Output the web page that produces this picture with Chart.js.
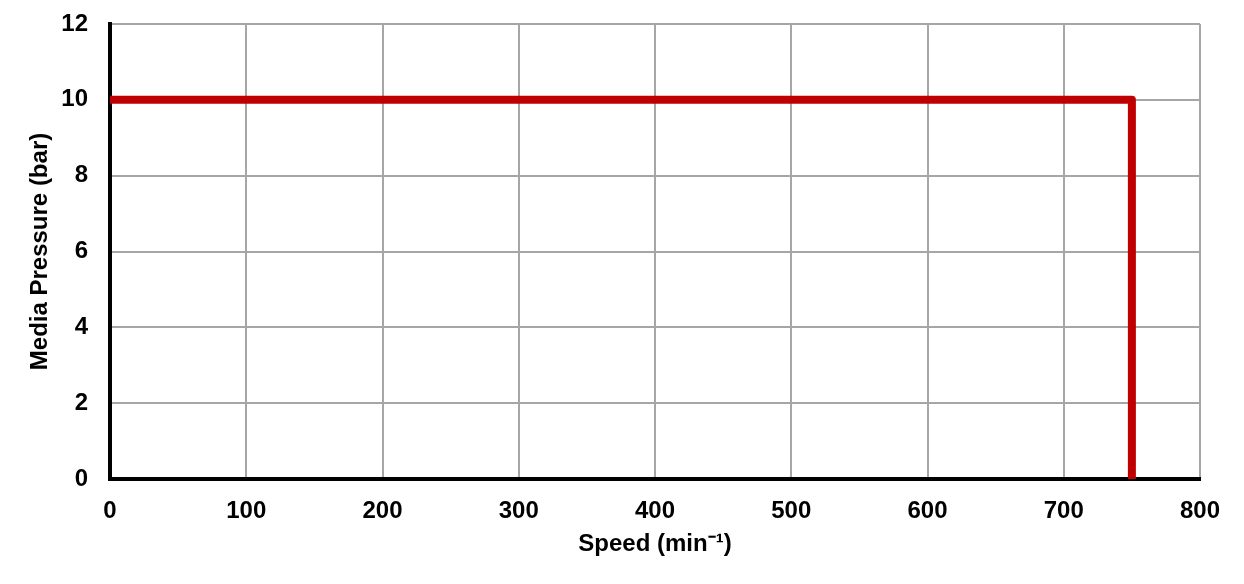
<!DOCTYPE html>
<html>
<head>
<meta charset="utf-8">
<script src="https://cdn.jsdelivr.net/npm/chart.js@4/dist/chart.umd.min.js"></script>
<style>
  html, body { margin: 0; padding: 0; background: #fff; }
  #wrap { width: 1244px; height: 584px; }
</style>
</head>
<body>
<div id="wrap"><canvas id="grafico"></canvas></div>
<script>
// Limite de operação: pressão x velocidade
const velocidades = [0, 750, 750];
const pressoes = [10, 10, 0];

const xTicks = [0, 100, 200, 300, 400, 500, 600, 700, 800];
const yTicks = [0, 2, 4, 6, 8, 10, 12];

const fonte = { family: "'Liberation Sans', Arial, sans-serif", size: 24, weight: 'bold' };

const pontos = velocidades.map((v, i) => ({ x: v, y: pressoes[i] }));

new Chart(document.getElementById('grafico'), {
    type: 'scatter',
    data: {
        datasets: [{
            data: pontos,
            showLine: true,
            borderColor: '#C00000',
            borderWidth: 8,
            borderJoinStyle: 'round',
            pointRadius: 0,
            fill: false
        }]
    },
    options: {
        responsive: true,
        maintainAspectRatio: false,
        animation: false,
        layout: { padding: { top: 24, right: 44, left: 0, bottom: 0 } },
        plugins: { legend: { display: false }, tooltip: { enabled: false } },
        scales: {
            x: {
                type: 'linear',
                min: xTicks[0],
                max: xTicks[xTicks.length - 1],
                afterBuildTicks: s => { s.ticks = xTicks.map(v => ({ value: v })); },
                afterFit: s => { s.height = 105; },
                border: { color: '#000', width: 4 },
                grid: { color: '#A6A6A6', lineWidth: 2, drawTicks: false },
                ticks: { color: '#000', font: fonte, padding: 18, maxRotation: 0 },
                title: {
                    display: true,
                    text: 'Speed (min\u207B\u00B9)',
                    color: '#000',
                    font: fonte,
                    padding: { top: 0, bottom: 25 }
                }
            },
            y: {
                min: yTicks[0],
                max: yTicks[yTicks.length - 1],
                afterBuildTicks: s => { s.ticks = yTicks.map(v => ({ value: v })); },
                afterFit: s => { s.width = 110; s.paddingTop = 0; s.paddingBottom = 0; },
                border: { color: '#000', width: 4 },
                grid: { color: '#A6A6A6', lineWidth: 2, drawTicks: false },
                ticks: { color: '#000', font: fonte, padding: 22 },
                title: {
                    display: true,
                    text: 'Media Pressure (bar)',
                    color: '#000',
                    font: fonte,
                    padding: { top: 26, bottom: 0 }
                }
            }
        }
    }
});
</script>
</body>
</html>
